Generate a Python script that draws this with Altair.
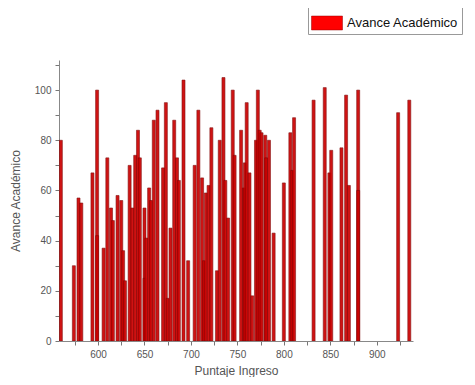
import altair as alt
import pandas as pd

puntaje = [560, 574, 579, 582, 594, 599, 599, 606, 610, 614, 616, 621, 625, 627, 629,
           634, 637, 640, 643, 645, 650, 650, 652, 655, 657, 660, 664, 670, 673, 675,
           678, 682, 685, 687, 692, 697, 704, 708, 712, 714, 716, 719, 722, 728, 731,
           735, 737, 740, 745, 747, 754, 757, 758, 760, 763, 766, 770, 772, 774, 776,
           780, 781, 784, 789, 800, 807, 809, 811, 832, 844, 849, 851, 862, 867, 870,
           880, 880, 923, 935]
avance = [80, 30, 57, 55, 67, 100, 42, 37, 73, 53, 48, 58, 56, 36, 24,
          70, 53, 74, 84, 73, 53, 25, 41, 61, 56, 88, 92, 69, 95, 17,
          45, 88, 73, 64, 104, 32, 70, 92, 65, 32, 59, 62, 85, 28, 80,
          105, 64, 49, 100, 74, 84, 61, 71, 95, 67, 18, 80, 100, 84, 83,
          82, 73, 80, 43, 63, 83, 68, 89, 96, 101, 67, 76, 77, 98, 62,
          100, 60, 91, 96]

serie = ["Avance Académico"]

df = pd.DataFrame({"Puntaje": puntaje, "Avance": avance})
legend_df = pd.DataFrame({"Puntaje": [puntaje[0]], "Avance": [avance[0]], "serie": serie})

font = "Liberation Sans"

x_axis = alt.Axis(
    title="Puntaje Ingreso",
    values=list(range(575, 940, 25)),
    labelExpr="datum.value % 50 == 0 ? format(datum.value, 'd') : ''",
    labelOverlap=False, labelFlush=False,
    tickSize=4,
    grid=False, domainColor="#888888", tickColor="#777777",
    labelColor="#555555", labelFontSize=10, labelFont=font, labelPadding=4,
    titleColor="#555555", titleFontSize=12, titleFont=font, titleFontWeight="normal",
    titlePadding=6,
)
y_axis = alt.Axis(
    title="Avance Académico",
    values=list(range(0, 111, 10)),
    labelExpr="datum.value % 20 == 0 ? format(datum.value, 'd') : ''",
    labelOverlap=False, labelFlush=False,
    tickSize=4,
    grid=False, domainColor="#888888", tickColor="#777777",
    labelColor="#555555", labelFontSize=10, labelFont=font, labelPadding=4,
    titleColor="#555555", titleFontSize=12, titleFont=font, titleFontWeight="normal",
    titlePadding=12,
)

xs = alt.Scale(domain=[558, 939], nice=False, zero=False, padding=0)
ys = alt.Scale(domain=[0, 112], nice=False)

bars = alt.Chart(df).mark_bar(
    size=3, fill="#cc0000", stroke="#7a0000", strokeWidth=0.6, opacity=0.92, clip=True
).encode(
    x=alt.X("Puntaje:Q", scale=xs, axis=x_axis),
    y=alt.Y("Avance:Q", scale=ys, axis=y_axis, stack=None),
)

legend_layer = alt.Chart(legend_df).mark_point(filled=True, size=0, opacity=1).encode(
    x=alt.X("Puntaje:Q", scale=xs, axis=x_axis),
    y=alt.Y("Avance:Q", scale=ys, axis=y_axis),
    color=alt.Color(
        "serie:N",
        scale=alt.Scale(domain=serie, range=["#ff0000"]),
        legend=alt.Legend(
            title=None, orient="none", legendX=249, legendY=-56,
            symbolType="M-1,-0.45H1V0.45H-1Z", symbolSize=961,
            symbolStrokeColor="#990000", symbolStrokeWidth=0.5, symbolOpacity=1,
            labelFont=font, labelFontSize=13, labelColor="#111111", labelLimit=300,
            strokeColor="#999999", fillColor="white", padding=3, labelOffset=4,
        ),
    ),
)

chart = alt.layer(bars, legend_layer).properties(
    width=354, height=281,
    autosize="none",
    padding={"left": 51, "top": 52, "right": 54, "bottom": 36},
).configure_view(stroke=None)

chart.save("out.html", embed_options={"renderer": "svg", "actions": False})
